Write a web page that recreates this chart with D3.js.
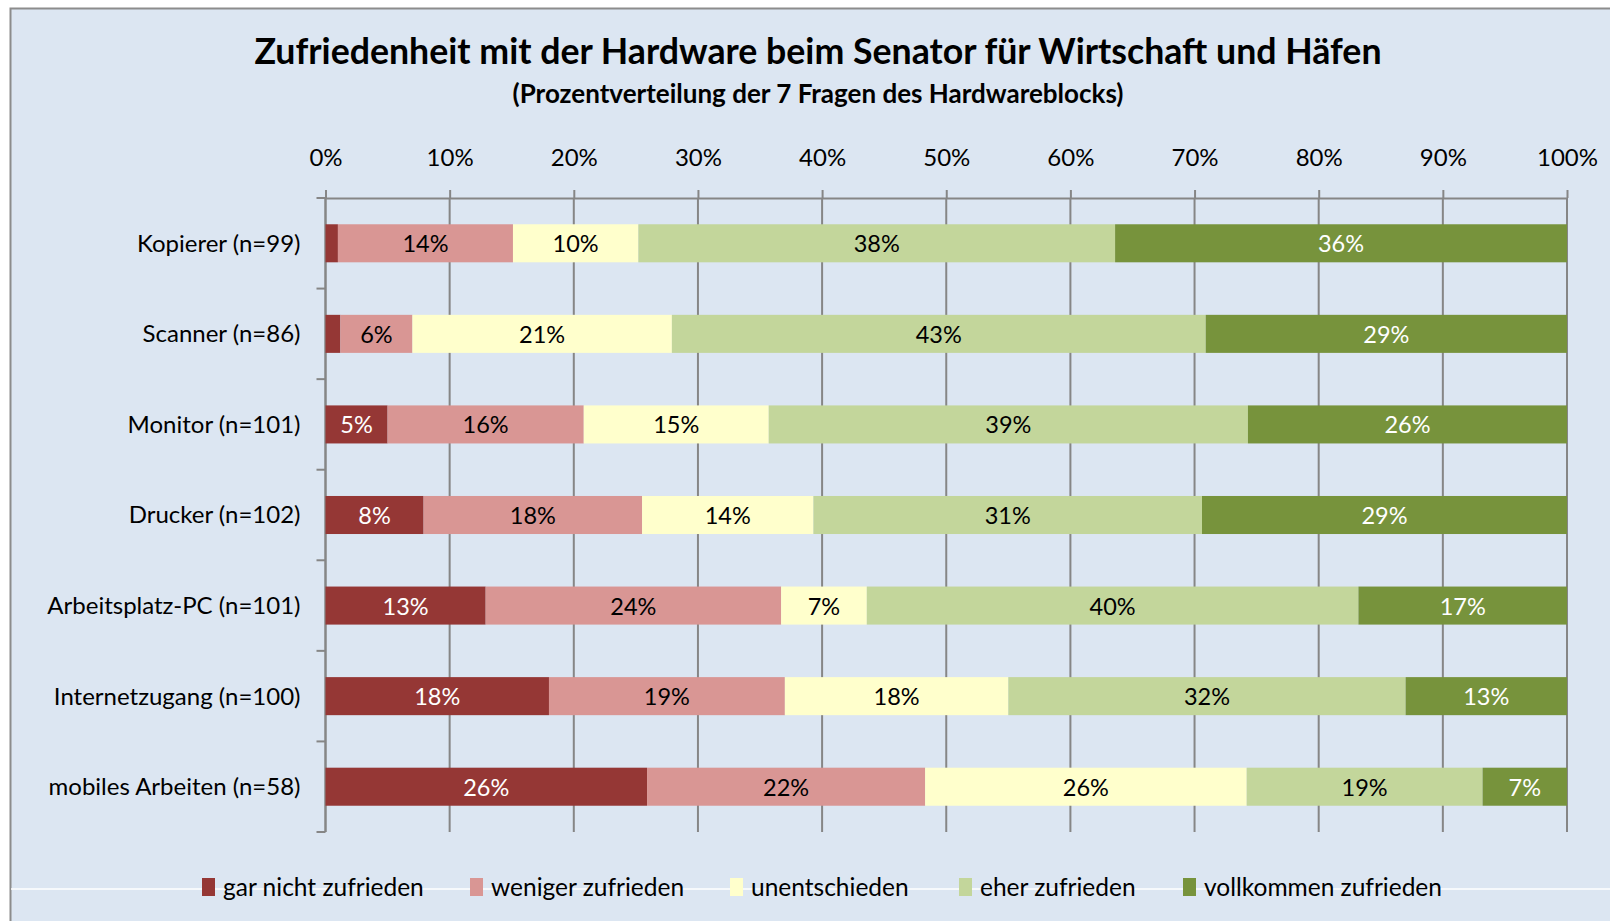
<!DOCTYPE html>
<html>
<head>
<meta charset="utf-8">
<script src="https://cdn.jsdelivr.net/npm/d3@7/dist/d3.min.js"></script>
<style>
  body { margin: 0; background: #fff; }
  svg { display: block; font-family: Lato, "Open Sans", sans-serif; }
  .title { font-weight: bold; font-size: 35.7px; }
  .subtitle { font-weight: bold; font-size: 26px; }
  .tick text { font-size: 24px; fill: #000; }
</style>
</head>
<body>
<svg width="1610" height="921"></svg>
<script>
const svg = d3.select("svg");
const width = +svg.attr("width");
const height = +svg.attr("height");

// categories (top to bottom)
const categories = [
  "Kopierer (n=99)",
  "Scanner (n=86)",
  "Monitor (n=101)",
  "Drucker (n=102)",
  "Arbeitsplatz-PC (n=101)",
  "Internetzugang (n=100)",
  "mobiles Arbeiten (n=58)"
];

// series, percent values per category
const seriesNames = [
  "gar nicht zufrieden",
  "weniger zufrieden",
  "unentschieden",
  "eher zufrieden",
  "vollkommen zufrieden"
];
const garNicht   = [1.0, 1.2, 5.0, 7.9, 12.9, 18, 25.9];
const weniger    = [14.1, 5.8, 15.8, 17.6, 23.8, 19, 22.4];
const unentsch   = [10.1, 20.9, 14.9, 13.8, 6.9, 18, 25.9];
const eher       = [38.4, 43.0, 38.6, 31.3, 39.6, 32, 19.0];
const vollkommen = [36.4, 29.1, 25.7, 29.4, 16.8, 13, 6.8];

const xTicks = [0, 10, 20, 30, 40, 50, 60, 70, 80, 90, 100];

const colors = ["#953735", "#D99694", "#FFFFCC", "#C3D69B", "#77933C"];
const labelColors = ["#fff", "#000", "#000", "#000", "#fff"];

const rows = categories.map((c, i) => ({
  cat: c,
  [seriesNames[0]]: garNicht[i],
  [seriesNames[1]]: weniger[i],
  [seriesNames[2]]: unentsch[i],
  [seriesNames[3]]: eher[i],
  [seriesNames[4]]: vollkommen[i]
}));

// chart area background, border visible on left and top only
svg.append("rect")
  .attr("x", 10).attr("y", 8)
  .attr("width", width - 10).attr("height", height - 8)
  .attr("fill", "#DCE6F2");
svg.append("path")
  .attr("d", `M10.5,${height} V8.5 H${width}`)
  .attr("fill", "none")
  .attr("stroke", "#8C8C8C")
  .attr("stroke-width", 2);

svg.append("text")
  .attr("class", "title")
  .attr("x", 818).attr("y", 64)
  .attr("text-anchor", "middle")
  .text("Zufriedenheit mit der Hardware beim Senator für Wirtschaft und Häfen");

svg.append("text")
  .attr("class", "subtitle")
  .attr("x", 818).attr("y", 103)
  .attr("text-anchor", "middle")
  .text("(Prozentverteilung der 7 Fragen des Hardwareblocks)");

const margin = { top: 198, left: 325.5, right: 43, bottom: 89 };
const innerWidth = width - margin.left - margin.right;
const innerHeight = height - margin.top - margin.bottom;

const xScale = d3.scaleLinear().domain([0, 100]).range([0, innerWidth]);
const yScale = d3.scaleBand().domain(categories).range([0, innerHeight]).paddingInner(0.58).paddingOuter(0.29);

const g = svg.append("g").attr("transform", `translate(${margin.left}, ${margin.top})`);

// gridlines
g.append("g")
  .selectAll("line")
  .data(xTicks)
  .join("line")
  .attr("x1", (d) => xScale(d)).attr("x2", (d) => xScale(d))
  .attr("y1", 0).attr("y2", innerHeight)
  .attr("stroke", "#868686")
  .attr("stroke-width", 2);

// top axis
const xAxisG = g.append("g")
  .call(d3.axisTop(xScale).tickValues(xTicks).tickFormat((d) => d + "%").tickSize(8).tickSizeOuter(0).tickPadding(24));
xAxisG.selectAll("line, path").attr("stroke", "#868686").attr("stroke-width", 2);
xAxisG.selectAll("text").attr("font-family", "Lato, sans-serif");

// left axis with ticks at band boundaries
const yAxisG = g.append("g");
yAxisG.append("line")
  .attr("x1", 0).attr("x2", 0).attr("y1", 0).attr("y2", innerHeight)
  .attr("stroke", "#868686").attr("stroke-width", 2);
yAxisG.selectAll("line.tk")
  .data(d3.range(categories.length + 1))
  .join("line")
  .attr("class", "tk")
  .attr("x1", -9).attr("x2", 0)
  .attr("y1", (i) => i * innerHeight / categories.length)
  .attr("y2", (i) => i * innerHeight / categories.length)
  .attr("stroke", "#868686").attr("stroke-width", 2);

yAxisG.selectAll("text")
  .data(categories)
  .join("text")
  .attr("x", -25)
  .attr("y", (d) => yScale(d) + yScale.bandwidth() / 2)
  .attr("dy", "0.35em")
  .attr("text-anchor", "end")
  .attr("font-size", 24)
  .text((d) => d);

// stacked bars
const stacked = d3.stack().keys(seriesNames)(rows);

const layers = g.selectAll("g.layer")
  .data(stacked)
  .join("g")
  .attr("class", "layer")
  .attr("fill", (d, i) => colors[i]);

layers.selectAll("rect")
  .data((d) => d)
  .join("rect")
  .attr("x", (d) => xScale(d[0]))
  .attr("y", (d) => yScale(d.data.cat))
  .attr("width", (d) => xScale(d[1]) - xScale(d[0]))
  .attr("height", yScale.bandwidth());

layers.selectAll("text")
  .data((d, i) => d.map((s) => ({ s, i })).filter((o) => o.s[1] - o.s[0] >= 2))
  .join("text")
  .attr("x", (o) => xScale((o.s[0] + o.s[1]) / 2))
  .attr("y", (o) => yScale(o.s.data.cat) + yScale.bandwidth() / 2)
  .attr("dy", "0.38em")
  .attr("text-anchor", "middle")
  .attr("font-size", 23.5)
  .attr("fill", (o) => labelColors[o.i])
  .text((o) => Math.round(o.s[1] - o.s[0]) + "%");

// white line near the bottom
svg.append("line")
  .attr("x1", 11).attr("x2", width)
  .attr("y1", 889).attr("y2", 889)
  .attr("stroke", "#fff").attr("stroke-width", 1.5);

// legend
const legendX = [202, 470, 730, 959, 1183];
const legend = svg.append("g")
  .selectAll("g")
  .data(seriesNames)
  .join("g")
  .attr("transform", (d, i) => `translate(${legendX[i]}, 887)`);

legend.append("rect")
  .attr("x", 0).attr("y", -9)
  .attr("width", 13).attr("height", 18)
  .attr("fill", (d, i) => colors[i]);

legend.append("text")
  .attr("x", 21).attr("dy", "0.35em")
  .attr("font-size", 24.5)
  .text((d) => d);
</script>
</body>
</html>
